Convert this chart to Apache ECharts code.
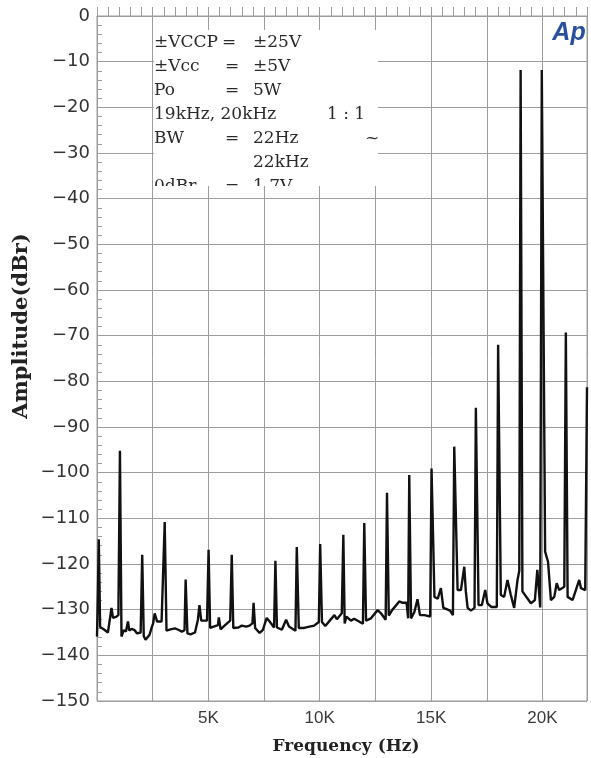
<!DOCTYPE html>
<html>
<head>
<meta charset="utf-8">
<script src="https://cdn.jsdelivr.net/npm/echarts@6/dist/echarts.min.js"></script>
<style>
html,body{margin:0;padding:0;background:#fff;}
#chart{width:591px;height:758px;}
</style>
</head>
<body>
<div id="chart"></div>
<script>
// Spectrum: [frequency in kHz, amplitude in dBr]
const spectrum = [
  [0, -135.9], [0.04, -126], [0.08, -114.6], [0.14, -133.8], [0.3, -134.3], [0.49, -135.0],
  [0.58, -132.0], [0.65, -129.6], [0.72, -131.8], [0.85, -131.6], [0.96, -131.2],
  [1.03, -95.2], [1.1, -135.9], [1.2, -134.5], [1.3, -134.8], [1.39, -132.6], [1.45, -134.6],
  [1.55, -134.2], [1.69, -134.5], [1.8, -135.2], [1.96, -135.0],
  [2.03, -118.0], [2.1, -135.8], [2.18, -136.6], [2.36, -135.5], [2.45, -134.0], [2.52, -133.0],
  [2.59, -130.8], [2.7, -132.6], [2.9, -132.6], [2.98, -132.3],
  [3.04, -110.8], [3.12, -134.6], [3.3, -134.3], [3.5, -134.1], [3.65, -134.4], [3.81, -134.8], [3.93, -134.5],
  [3.98, -123.4], [4.06, -135.2], [4.2, -135.4], [4.4, -135.0], [4.53, -132.2], [4.6, -129.0],
  [4.68, -132.4], [4.94, -132.4],
  [5.01, -116.9], [5.08, -134.0], [5.3, -133.6], [5.43, -133.4], [5.47, -131.7], [5.55, -134.3],
  [5.75, -133.4], [5.98, -132.4],
  [6.05, -118.0], [6.12, -134.0], [6.35, -133.9], [6.5, -133.5], [6.7, -133.7], [6.85, -133.5], [6.98, -133.0],
  [7.03, -128.5], [7.1, -134.0], [7.3, -135.1], [7.45, -134.4], [7.62, -131.8], [7.75, -132.6], [7.95, -133.9],
  [8.01, -119.3], [8.08, -133.9], [8.3, -134.4], [8.49, -132.2], [8.62, -133.7], [8.91, -134.6],
  [8.97, -116.3], [9.06, -134.0], [9.3, -134.0], [9.54, -133.7], [9.75, -133.5], [9.96, -132.7],
  [10.02, -115.6], [10.1, -132.7], [10.25, -133.6], [10.45, -132.4], [10.66, -131.2], [10.77, -132.1], [10.99, -130.8],
  [11.06, -113.6], [11.12, -133.0], [11.2, -131.5], [11.4, -132.4], [11.55, -132.0], [11.94, -133.1],
  [12.0, -111.0], [12.08, -132.4], [12.3, -131.9], [12.6, -130.1], [12.75, -130.8], [12.96, -132.2],
  [13.02, -104.4], [13.1, -131.3], [13.25, -130.1], [13.57, -128.2], [13.72, -128.5], [13.9, -128.5], [13.97, -131.9],
  [14.02, -100.5], [14.1, -131.9], [14.25, -130.5], [14.39, -127.7], [14.5, -131.2], [14.7, -131.2], [14.96, -131.5],
  [15.02, -99.1], [15.15, -127.2], [15.3, -127.6], [15.44, -125.3], [15.55, -129.6], [15.7, -129.9],
  [15.85, -130.2], [15.98, -131.2],
  [16.04, -94.3], [16.19, -125.7], [16.34, -125.7], [16.49, -120.6], [16.56, -126.0], [16.64, -129.6],
  [16.79, -130.2], [16.95, -129.6],
  [17.01, -85.8], [17.13, -129.0], [17.28, -129.0], [17.43, -125.7], [17.53, -128.6], [17.7, -129.4], [17.95, -129.4],
  [18.01, -72.0], [18.13, -126.8], [18.28, -127.2], [18.43, -123.5], [18.58, -126.8], [18.73, -129.6],
  [18.88, -123.5], [18.96, -121.5],
  [19.02, -11.8], [19.1, -126.0], [19.32, -127.5], [19.48, -128.6], [19.66, -127.9], [19.77, -121.3], [19.9, -129.5],
  [19.97, -11.8], [20.12, -117.3], [20.25, -119.5], [20.38, -127.9], [20.53, -127.2], [20.64, -124.2],
  [20.75, -125.7], [20.98, -125.0],
  [21.05, -69.3], [21.13, -127.2], [21.35, -127.9], [21.5, -125.7], [21.65, -123.5], [21.73, -125.3], [21.92, -125.7],
  [22.0, -81.3]
];

const xTickLabels = { 5: '5K', 10: '10K', 15: '15K', 20: '20K' };
const yTickValues = [0, -10, -20, -30, -40, -50, -60, -70, -80, -90, -100, -110, -120, -130, -140, -150];

// Measurement conditions box: [label, '=', value, extra]
const conditionLines = [
  ['±VCCP', '=', '±25V', ''],
  ['±Vcc', '=', '±5V', ''],
  ['Po', '=', '5W', ''],
  ['19kHz, 20kHz', '', '', '1 : 1'],
  ['BW', '=', '22Hz', '~'],
  ['', '', '22kHz', ''],
  ['0dBr', '=', '1.7V', '']
];

const chart = echarts.init(document.getElementById('chart'), null, { renderer: 'canvas' });

const gridColor = '#9c9c9c';
const serif = '"DejaVu Serif", "Liberation Serif", serif';

function renderConditions() {
  const box = { x: 154, y: 30, width: 224, height: 156 };
  const children = [{
    type: 'rect',
    shape: { x: box.x, y: box.y, width: box.width, height: box.height },
    style: { fill: '#ffffff' }
  }];
  conditionLines.forEach(function (line, i) {
    const y = 43 + i * 24;
    const eqX = i === 0 ? 222 : 225;
    const parts = [[line[0], 154], [line[1], eqX], [line[2], 253], [line[3], i === 4 ? 365 : 327]];
    parts.forEach(function (p) {
      if (!p[0]) return;
      children.push({
        type: 'text',
        style: {
          text: p[0], x: p[1], y: y,
          fill: '#2a2a2a', font: '17px ' + serif,
          align: 'left', verticalAlign: 'middle'
        }
      });
    });
  });
  return {
    type: 'group',
    children: children,
    clipPath: { type: 'rect', shape: { x: box.x, y: box.y, width: box.width, height: box.height } }
  };
}

const option = {
  animation: false,
  backgroundColor: '#ffffff',
  grid: {
    left: 97, top: 16, right: 4, bottom: 57,
    show: true, borderColor: gridColor, borderWidth: 1, backgroundColor: 'transparent'
  },
  xAxis: {
    type: 'value', min: 0, max: 22, interval: 2.5,
    axisLine: { show: true, lineStyle: { color: gridColor, width: 1 } },
    axisTick: { show: true, inside: true, length: 9, lineStyle: { color: gridColor } },
    minorTick: { show: true, splitNumber: 5, length: 9, lineStyle: { color: gridColor } },
    splitLine: { show: true, lineStyle: { color: gridColor, width: 1 } },
    axisLabel: {
      margin: 9, color: '#3a3a3a', fontSize: 17,
      fontFamily: '"Liberation Sans", Arial, sans-serif',
      showMinLabel: false, showMaxLabel: false,
      formatter: function (v) { return xTickLabels[v] || ''; }
    }
  },
  yAxis: {
    type: 'value', min: -150, max: 0, interval: 10,
    axisLine: { show: true, lineStyle: { color: gridColor, width: 1 } },
    axisTick: { show: true, inside: true, length: 5, lineStyle: { color: gridColor } },
    minorTick: { show: true, splitNumber: 5, length: 5, lineStyle: { color: gridColor } },
    splitLine: { show: true, lineStyle: { color: gridColor, width: 1 } },
    axisLabel: {
      margin: 7, color: '#333333', fontSize: 18,
      fontFamily: '"DejaVu Sans", sans-serif',
      formatter: function (v) {
        if (yTickValues.indexOf(v) < 0) return '';
        return v === 0 ? '0' : '\u2212' + Math.abs(v);
      }
    }
  },
  graphic: [
    {
      type: 'text', x: 22, y: 326, rotation: Math.PI / 2,
      style: {
        text: 'Amplitude(dBr)', fill: '#222', font: 'bold 21px ' + serif,
        align: 'center', verticalAlign: 'middle'
      }
    },
    {
      type: 'text', x: 346, y: 747,
      style: {
        text: 'Frequency (Hz)', fill: '#222', font: 'bold 17px ' + serif,
        align: 'center', verticalAlign: 'middle'
      }
    },
    {
      type: 'text', x: 569, y: 33,
      style: {
        text: 'Ap', fill: '#2b4f9f', font: 'italic bold 25px "Liberation Sans", Arial, sans-serif',
        align: 'center', verticalAlign: 'middle'
      }
    }
  ],
  series: [
    {
      type: 'line',
      data: spectrum,
      showSymbol: false,
      symbol: 'none',
      clip: true,
      lineStyle: { color: '#111111', width: 2.4 },
      z: 3
    },
    {
      type: 'custom',
      data: [[0, 0]],
      clip: false,
      silent: true,
      z: 4,
      renderItem: function () { return renderConditions(); }
    }
  ]
};

chart.setOption(option);
</script>
</body>
</html>
